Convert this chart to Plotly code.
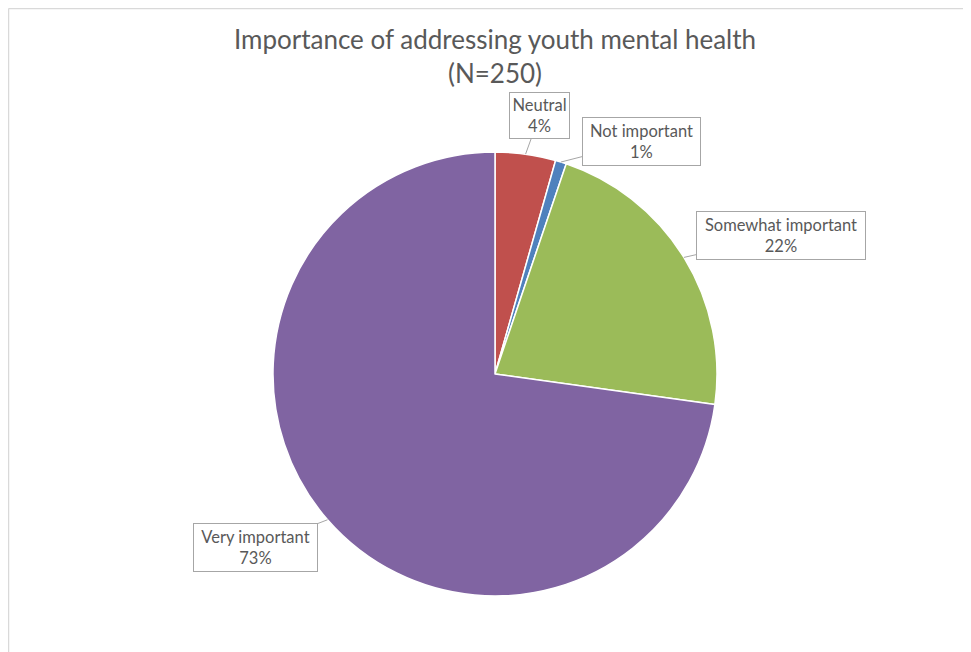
import math
import plotly.graph_objects as go

# ---- data ----
categories = ["Neutral", "Not important", "Somewhat important", "Very important"]
counts = [11, 2, 55, 182]
colors = ["#C0504D", "#4F81BD", "#9BBB59", "#8064A2"]
title_text = "Importance of addressing youth mental health"
n_total = 250

# ---- layout geometry (screen pixels; page body has an 8px margin) ----
OFF = 8
W, H = 971 - OFF, 652 - OFF
cx, cy, R = 495 - OFF, 374 - OFF, 222
# label boxes: (left, top, right, bottom) in screen pixels
label_boxes = [(509, 92, 570, 139), (582, 117, 701, 166), (696, 211, 866, 260), (193, 523, 318, 572)]

total = sum(counts)
pcts = [round(v / total * 100) for v in counts]

fig = go.Figure()
fig.add_trace(go.Pie(
    labels=categories,
    values=counts,
    sort=False,
    direction="clockwise",
    rotation=0,
    marker=dict(colors=colors, line=dict(color="white", width=1.5)),
    textinfo="none",
    hoverinfo="label+percent",
    showlegend=False,
    domain=dict(x=[(cx - R) / W, (cx + R) / W], y=[1 - (cy + R) / H, 1 - (cy - R) / H]),
))

# callout annotations
cum = 0
for cat, v, p, (l, t, r, b) in zip(categories, counts, pcts, label_boxes):
    mid = (cum + v / 2) / total * 2 * math.pi
    cum += v
    tx = cx + R * math.sin(mid)
    ty = cy - R * math.cos(mid)
    lx = (l + r) / 2 - OFF
    ly = (t + b) / 2 - OFF
    fig.add_annotation(
        x=tx / W, y=1 - ty / H, xref="paper", yref="paper",
        ax=lx - tx, ay=ly - ty,
        text=f"{cat}<br>{p}%",
        showarrow=True, arrowhead=0, arrowwidth=1, arrowcolor="#A6A6A6",
        bordercolor="#A6A6A6", borderwidth=1, borderpad=1, bgcolor="white",
        width=(r - l) - 4, height=(b - t) - 4,
        font=dict(family="Lato, Open Sans, sans-serif", size=16.5, color="#595959"),
        align="center", valign="middle",
    )

fig.update_layout(
    width=W, height=H,
    margin=dict(l=0, r=0, t=0, b=0),
    paper_bgcolor="white", plot_bgcolor="white",
    title=dict(
        text=f"{title_text}<br>(N={n_total})",
        x=cx / W, xanchor="center", xref="paper",
        y=1 - (49 - OFF) / H, yanchor="middle", yref="container",
        font=dict(family="Lato, Open Sans, sans-serif", size=26, color="#595959"),
    ),
    shapes=[
        dict(type="line", xref="paper", yref="paper", x0=0.5 / W, x1=1, y0=1 - 0.5 / H, y1=1 - 0.5 / H,
             line=dict(color="#D9D9D9", width=1.5)),
        dict(type="line", xref="paper", yref="paper", x0=0.5 / W, x1=0.5 / W, y0=0, y1=1 - 0.5 / H,
             line=dict(color="#D9D9D9", width=1.5)),
    ],
)

fig.write_html("out.html")
